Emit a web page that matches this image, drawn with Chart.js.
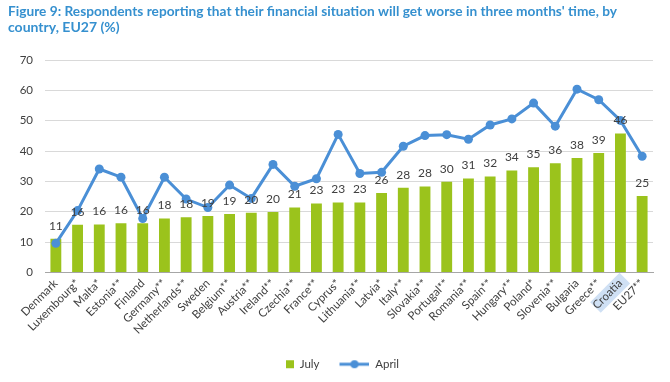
<!DOCTYPE html>
<html><head><meta charset="utf-8">
<script src="https://cdn.jsdelivr.net/npm/chart.js@4/dist/chart.umd.min.js"></script>
<style>html,body{margin:0;padding:0;background:#fff;} #wrap{width:670px;height:382px;position:relative;}</style>
</head><body><div id="wrap"><canvas id="c" width="670" height="382"></canvas></div>
<script>
const titleLines = ["Figure 9: Respondents reporting that their financial situation will get worse in three months' time, by", "country, EU27 (%)"];
const countries = ["Denmark","Luxembourg*","Malta*","Estonia**","Finland","Germany**","Netherlands**","Sweden","Belgium**","Austria**","Ireland**","Czechia**","France**","Cyprus*","Lithuania**","Latvia*","Italy**","Slovakia**","Portugal**","Romania**","Spain**","Hungary**","Poland*","Slovenia**","Bulgaria","Greece**","Croatia","EU27**"];
const july = [11.1,15.7,15.8,16.2,16.2,17.8,18.2,18.6,19.3,19.7,19.9,21.4,22.7,23.1,23.1,26.2,27.9,28.3,29.9,31.0,31.6,33.6,34.7,36.0,37.7,39.4,45.8,25.2];
const april = [9.6,20.4,34.1,31.4,17.8,31.4,24.2,21.4,28.8,24.4,35.6,28.4,30.9,45.5,32.6,33.0,41.6,45.1,45.4,43.9,48.6,50.6,55.8,48.2,60.4,56.9,50.1,38.3];
const yTicks = [0,10,20,30,40,50,60,70];
const seriesNames = ["July","April"];

const GREEN = '#9bc31c', BLUE = '#4a8fd6', TXT = '#404040', TITLE = '#3590cf';
const XFONT = 11.5;

function makeJulyIcon(){
  const c = document.createElement('canvas'); c.width = 40; c.height = 10;
  const x = c.getContext('2d'); x.fillStyle = GREEN; x.fillRect(32,1,8,8); return c;
}
function makeAprilIcon(){
  const c = document.createElement('canvas'); c.width = 40; c.height = 10;
  const x = c.getContext('2d'); x.strokeStyle = BLUE; x.lineWidth = 3;
  x.beginPath(); x.moveTo(10,5); x.lineTo(40,5); x.stroke();
  x.fillStyle = BLUE; x.beginPath(); x.arc(25,5,4,0,Math.PI*2); x.fill(); return c;
}
const julyIcon = makeJulyIcon(), aprilIcon = makeAprilIcon();

const titlePlugin = {
  id:'titleDraw',
  beforeDraw(chart){
    const ctx = chart.ctx; ctx.save();
    ctx.fillStyle = TITLE; ctx.font = 'bold 14px Lato'; ctx.textBaseline = 'middle'; ctx.textAlign = 'left';
    ctx.fillText(titleLines[0], 8, 11, 609);
    ctx.fillText(titleLines[1], 8, 27);
    // highlight behind Croatia label
    const xs = chart.scales.x;
    const idx = countries.indexOf('Croatia');
    const px = xs.getPixelForValue(idx);
    ctx.font = XFONT + 'px Lato';
    const w = ctx.measureText('Croatia').width;
    ctx.translate(px + 3, xs.top + 7);
    ctx.rotate(-Math.PI/4);
    ctx.fillStyle = '#cfe0f4';
    ctx.fillRect(-w-3, -7.5, w+5, 15);
    ctx.restore();
  }
};

const labelPlugin = {
  id:'barLabels',
  afterDatasetsDraw(chart){
    const ctx = chart.ctx; const meta = chart.getDatasetMeta(0);
    ctx.save(); ctx.fillStyle = TXT; ctx.font = '12px Lato'; ctx.textAlign = 'center'; ctx.textBaseline = 'bottom';
    meta.data.forEach((bar,i)=>{ ctx.fillText(String(Math.round(july[i])), bar.x, bar.y - 7); });
    ctx.restore();
  }
};

new Chart(document.getElementById('c'), {
  type:'bar',
  data:{
    labels: countries,
    datasets:[
      {type:'bar', label:seriesNames[0], data:july, backgroundColor:GREEN, barPercentage:0.5, categoryPercentage:1, order:1},
      {type:'line', label:seriesNames[1], data:april, borderColor:BLUE, backgroundColor:BLUE, borderWidth:3, pointRadius:4.5, pointBackgroundColor:BLUE, pointBorderColor:BLUE, pointBorderWidth:0, tension:0, order:0}
    ]
  },
  options:{
    responsive:false, animation:false, devicePixelRatio:1,
    layout:{padding:{left:0,right:17,top:60,bottom:2}},
    plugins:{
      title:{display:false},
      tooltip:{enabled:false},
      legend:{
        position:'bottom',
        labels:{
          usePointStyle:true, pointStyleWidth:40, boxHeight:10, padding:10,
          font:{family:'Lato', size:11.5}, color:TXT,
          generateLabels(){
            return [
              {text:seriesNames[0], pointStyle:julyIcon, fillStyle:GREEN, strokeStyle:GREEN, lineWidth:0, datasetIndex:0, fontColor:TXT},
              {text:seriesNames[1], pointStyle:aprilIcon, fillStyle:BLUE, strokeStyle:BLUE, lineWidth:0, datasetIndex:1, fontColor:TXT}
            ];
          }
        }
      }
    },
    scales:{
      x:{
        grid:{display:false, drawTicks:false},
        border:{display:true, color:'#a6a6a6', width:1},
        ticks:{autoSkip:false, maxRotation:45, minRotation:45, padding:4, color:TXT, font:{family:'Lato', size:XFONT}},
        afterFit(s){ s.height = 76; }
      },
      y:{
        min:0, max:70,
        afterBuildTicks(s){ s.ticks = yTicks.map(v=>({value:v})); },
        grid:{color:'#d9d9d9', lineWidth:1, drawTicks:false},
        border:{display:false},
        ticks:{padding:12, color:TXT, font:{family:'Lato', size:11.5}},
        afterFit(s){ s.width = 45; }
      }
    }
  },
  plugins:[titlePlugin, labelPlugin]
});
</script></body></html>
